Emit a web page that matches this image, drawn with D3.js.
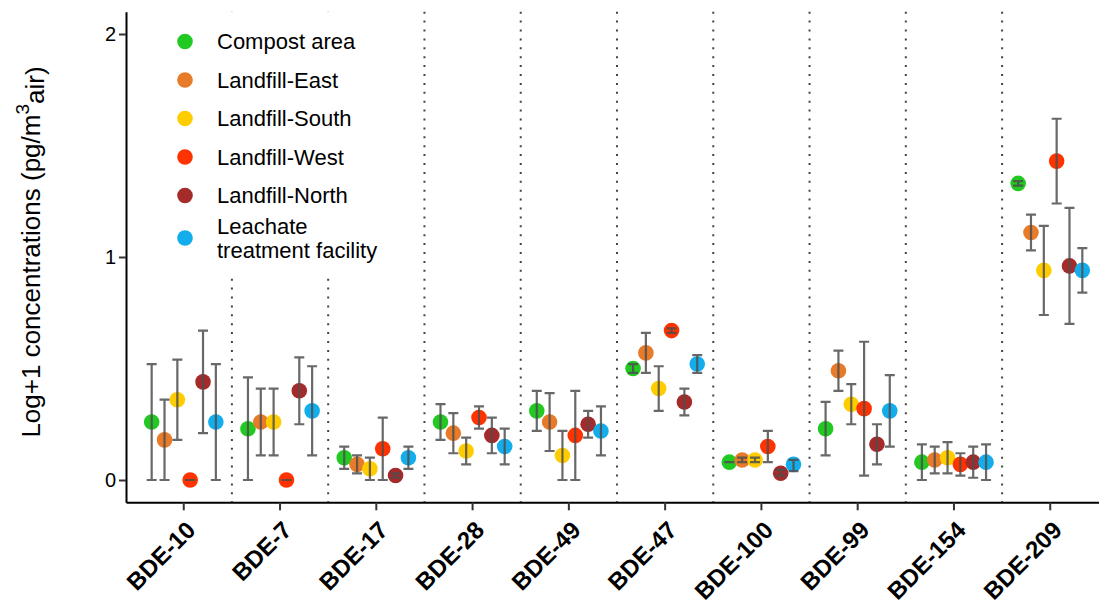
<!DOCTYPE html>
<html>
<head>
<meta charset="utf-8">
<script src="https://cdn.jsdelivr.net/npm/d3@7"></script>
<style>
  html, body { margin: 0; padding: 0; background: #fff; }
  svg { display: block; font-family: "Liberation Sans", Arial, sans-serif; }
</style>
</head>
<body>
<svg id="chart" width="1099" height="607"></svg>
<script>
// ---------- data ----------
const categories = ["BDE-10","BDE-7","BDE-17","BDE-28","BDE-49","BDE-47","BDE-100","BDE-99","BDE-154","BDE-209"];
const seriesNames = ["Compost area","Landfill-East","Landfill-South","Landfill-West","Landfill-North","Leachate treatment facility"];
const seriesColors = ["#22C922","#E87B2A","#FFCC00","#FF3300","#A52A2A","#14ADEB"];
const yTicks = [0, 1, 2];

const compostMean = [0.26, 0.23, 0.10, 0.26, 0.31, 0.50, 0.08, 0.23, 0.08, 1.33];
const compostLow  = [0.00, 0.00, 0.05, 0.18, 0.22, 0.48, 0.08, 0.11, 0.00, 1.32];
const compostHigh = [0.52, 0.46, 0.15, 0.34, 0.40, 0.52, 0.08, 0.35, 0.16, 1.34];

const eastMean = [0.18, 0.26, 0.07, 0.21, 0.26, 0.57, 0.09, 0.49, 0.09, 1.11];
const eastLow  = [0.00, 0.11, 0.03, 0.12, 0.13, 0.48, 0.08, 0.40, 0.03, 1.03];
const eastHigh = [0.36, 0.41, 0.11, 0.30, 0.39, 0.66, 0.10, 0.58, 0.15, 1.19];

const southMean = [0.36, 0.26, 0.05, 0.13, 0.11, 0.41, 0.09, 0.34, 0.10, 0.94];
const southLow  = [0.18, 0.11, 0.00, 0.07, 0.00, 0.31, 0.08, 0.25, 0.03, 0.74];
const southHigh = [0.54, 0.41, 0.10, 0.19, 0.22, 0.51, 0.10, 0.43, 0.17, 1.14];

const westMean = [0.00, 0.00, 0.14, 0.28, 0.20, 0.67, 0.15, 0.32, 0.07, 1.43];
const westLow  = [0.00, 0.00, 0.00, 0.23, 0.00, 0.66, 0.08, 0.02, 0.02, 1.24];
const westHigh = [0.00, 0.00, 0.28, 0.33, 0.40, 0.68, 0.22, 0.62, 0.12, 1.62];

const northMean = [0.44, 0.40, 0.02, 0.20, 0.25, 0.35, 0.03, 0.16, 0.08, 0.96];
const northLow  = [0.21, 0.25, 0.01, 0.12, 0.19, 0.29, 0.02, 0.07, 0.01, 0.70];
const northHigh = [0.67, 0.55, 0.03, 0.28, 0.31, 0.41, 0.045, 0.25, 0.15, 1.22];

const leachMean = [0.26, 0.31, 0.10, 0.15, 0.22, 0.52, 0.07, 0.31, 0.08, 0.94];
const leachLow  = [0.00, 0.11, 0.05, 0.07, 0.11, 0.48, 0.04, 0.15, 0.00, 0.84];
const leachHigh = [0.52, 0.51, 0.15, 0.23, 0.33, 0.56, 0.09, 0.47, 0.16, 1.04];

const means = [compostMean, eastMean, southMean, westMean, northMean, leachMean];
const lows  = [compostLow, eastLow, southLow, westLow, northLow, leachLow];
const highs = [compostHigh, eastHigh, southHigh, westHigh, northHigh, leachHigh];

// build table
const rows = [];
seriesNames.forEach((s, si) => {
  categories.forEach((c, ci) => {
    rows.push({series: s, si, cat: c, mean: means[si][ci], lo: lows[si][ci], hi: highs[si][ci]});
  });
});

// ---------- layout ----------
const svg = d3.select("#chart");
const pLeft = 126, pRight = 1108, pTop = 11.7, pBottom = 502.3;

const x = d3.scaleBand().domain(categories).range([pLeft, pRight]).paddingInner(0).paddingOuter(0.1);
const y = d3.scaleLinear().domain([-0.1, 2.1]).range([pBottom, pTop]);
const step = x.step();
const dodge = d3.scaleLinear().domain([0, seriesNames.length - 1]).range([-step * 0.8 * 2.5 / 6, step * 0.8 * 2.5 / 6]);
const cx = d => x(d.cat) + x.bandwidth() / 2 + dodge(d.si);

// dotted separators
const seps = categories.slice(1);
svg.append("g").selectAll("line").data(seps).join("line")
  .attr("x1", d => x(d)).attr("x2", d => x(d))
  .attr("y1", pTop).attr("y2", pBottom)
  .attr("stroke", "#444").attr("stroke-width", 2)
  .attr("stroke-dasharray", "2,6.9");

// legend background
svg.append("rect").attr("x", 165).attr("y", pTop).attr("width", 235).attr("height", 263).attr("fill", "#fff");

// points
svg.append("g").selectAll("circle").data(rows).join("circle")
  .attr("cx", cx).attr("cy", d => y(d.mean)).attr("r", 7.8)
  .attr("fill", d => seriesColors[d.si]);

// error bars
const eb = svg.append("g").attr("stroke", "#4d4d4d").attr("stroke-width", 2.2).attr("stroke-opacity", 0.85).attr("fill", "none");
eb.selectAll("path").data(rows).join("path")
  .attr("d", d => {
    const X = cx(d), a = y(d.hi), b = y(d.lo), w = 5;
    return `M${X - w},${a}H${X + w}M${X},${a}V${b}M${X - w},${b}H${X + w}`;
  });

// axes
const yAxis = svg.append("g").attr("transform", `translate(${pLeft},0)`)
  .call(d3.axisLeft(y).tickValues(yTicks).tickFormat(d3.format("d")).tickSize(7).tickSizeOuter(0));
yAxis.select(".domain").attr("stroke", "#000").attr("stroke-width", 2);
yAxis.selectAll(".tick line").attr("stroke", "#333").attr("stroke-width", 2);
yAxis.selectAll(".tick text").attr("font-size", 20).attr("fill", "#000").attr("x", -10)
  .attr("font-family", "Liberation Sans, Arial, sans-serif");

const xAxis = svg.append("g").attr("transform", `translate(0,${pBottom})`)
  .call(d3.axisBottom(x).tickSize(8).tickSizeOuter(0));
xAxis.select(".domain").attr("stroke", "#000").attr("stroke-width", 2);
xAxis.selectAll(".tick line").attr("stroke", "#333").attr("stroke-width", 2);
xAxis.selectAll(".tick text").remove();

// x labels rotated
svg.append("g").selectAll("text").data(categories).join("text")
  .attr("transform", d => `translate(${x(d) + x.bandwidth() / 2 + 1},${pBottom + 17}) rotate(-45)`)
  .attr("text-anchor", "end").attr("dy", "0.72em")
  .attr("font-size", 24).attr("font-weight", "bold").attr("fill", "#000")
  .text(d => d);

// y title
const yt = svg.append("text").attr("transform", `translate(40,252) rotate(-90)`)
  .attr("text-anchor", "middle").attr("font-size", 26).attr("fill", "#000");
yt.append("tspan").text("Log+1 concentrations (pg/m");
yt.append("tspan").attr("dy", "-0.6em").attr("font-size", 19).text("3");
yt.append("tspan").attr("dy", "0.6em").text("air)");

// legend
const legY = [41.5, 80, 118.5, 157, 195.5, 238];
const leg = svg.append("g");
seriesNames.forEach((s, i) => {
  leg.append("circle").attr("cx", 185).attr("cy", legY[i]).attr("r", 7.8).attr("fill", seriesColors[i]);
  const t = leg.append("text").attr("x", 217).attr("font-size", 22).attr("fill", "#000");
  if (i === 5) {
    t.append("tspan").attr("x", 217).attr("y", legY[i] - 11.5).attr("dy", "0.35em").text("Leachate");
    t.append("tspan").attr("x", 217).attr("y", legY[i] + 12).attr("dy", "0.35em").text("treatment facility");
  } else {
    t.attr("y", legY[i]).attr("dy", "0.35em").text(s);
  }
});
</script>
</body>
</html>
